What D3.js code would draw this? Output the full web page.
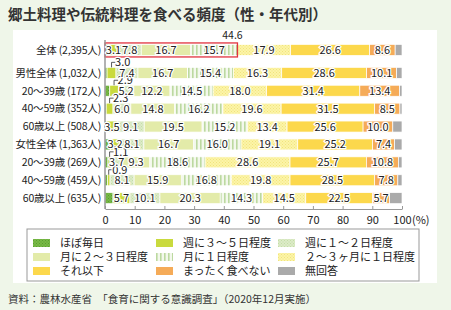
<!DOCTYPE html>
<html><head><meta charset="utf-8">
<script src="https://cdn.jsdelivr.net/npm/d3@7"></script>
<style>
html,body{margin:0;padding:0;background:#eff6e9;}
svg{display:block;font-family:"Noto Sans CJK JP","Noto Sans",sans-serif;}
</style></head><body>
<svg id="c" width="451" height="310"></svg>
<script>
const categories = ["全体 (2,395人)","男性全体 (1,032人)","20～39歳 (172人)","40～59歳 (352人)","60歳以上 (508人)","女性全体 (1,363人)","20～39歳 (269人)","40～59歳 (459人)","60歳以上 (635人)"];
const seriesNames = ["ほぼ毎日","週に３～５日程度","週に１～２日程度","月に２～３日程度","月に１日程度","２～３ヶ月に１日程度","それ以下","まったく食べない","無回答"];
const almostDaily   = [1.3, 0.7, 1.6, 0.4, 0.6, 1.8, 1.0, 0.8, 2.7];
const week3to5      = [3.1, 3.0, 2.9, 2.3, 3.5, 3.2, 1.1, 0.9, 5.7];
const week1to2      = [7.8, 7.4, 5.2, 6.0, 9.1, 8.1, 3.7, 8.1, 10.1];
const month2to3     = [16.7, 16.7, 12.2, 14.8, 19.5, 16.7, 9.3, 15.9, 20.3];
const month1        = [15.7, 15.4, 14.5, 16.2, 15.2, 16.0, 18.6, 16.8, 14.3];
const months2to3    = [17.9, 16.3, 18.0, 19.6, 13.4, 19.1, 28.6, 19.8, 14.5];
const lessOften     = [26.6, 28.6, 31.4, 31.5, 25.6, 25.2, 25.7, 28.5, 22.5];
const never         = [8.6, 10.1, 13.4, 8.5, 10.0, 7.4, 10.8, 7.8, 5.7];
const noAnswer      = [2.3, 1.8, 0.8, 0.7, 3.1, 2.5, 1.2, 1.4, 4.2];
const xTicks = [0,10,20,30,40,50,60,70,80,90,100];
const monthlyTotalLabel = "44.6";

const seriesValues = [almostDaily, week3to5, week1to2, month2to3, month1, months2to3, lessOften, never, noAnswer];
const fills = ["url(#pDaily)","#c9da3e","url(#pWeek12)","#e3eba9","url(#pStripe)","url(#pMonths)","#fcd84c","#f5ab58","#aaaaaa"];
const labeled = [false,true,true,true,true,true,true,true,false];

const svg = d3.select("#c");
const defs = svg.append("defs");
function dotPat(id, base, dot){
  const p = defs.append("pattern").attr("id",id).attr("width",3).attr("height",3).attr("patternUnits","userSpaceOnUse");
  p.append("rect").attr("width",3).attr("height",3).attr("fill",base);
  p.append("rect").attr("x",0).attr("y",0).attr("width",1).attr("height",1).attr("fill",dot);
  p.append("rect").attr("x",1.5).attr("y",1.5).attr("width",1).attr("height",1).attr("fill",dot);
}
dotPat("pDaily","#78b946","#5a9e32");
dotPat("pWeek12","#dcebc8","#c4dea6");
dotPat("pMonths","#fcf4a8","#f1e47c");
const ps = defs.append("pattern").attr("id","pStripe").attr("width",4).attr("height",4).attr("patternUnits","userSpaceOnUse");
ps.append("rect").attr("width",4).attr("height",4).attr("fill","#f3f8ec");
ps.append("rect").attr("width",1.6).attr("height",4).attr("fill","#bcd9a0");

// white panel
svg.append("rect").attr("x",13).attr("y",30).attr("width",424).attr("height",253).attr("fill","#ffffff");

// title
svg.append("text").attr("x",8).attr("y",20).attr("font-size",14.5).attr("font-weight","bold").attr("fill","#333")
  .text("郷土料理や伝統料理を食べる頻度（性・年代別）");

const x = d3.scaleLinear().domain([0,100]).range([105,402]);
const y = d3.scaleBand().domain(categories).range([41, 41+9*17.9]).padding(0);
const gapAfterFirst = 5;
const yc = c => y(c) + y.bandwidth()/2 + (categories.indexOf(c) > 0 ? gapAfterFirst : 0);
const barH = 11;

// stack
const table = categories.map((c,i) => {
  const o = {cat:c};
  seriesNames.forEach((s,k) => o[s] = seriesValues[k][i]);
  return o;
});
const stacked = d3.stack().keys(seriesNames)(table);

const gBars = svg.append("g");
stacked.forEach((layer,k) => {
  gBars.selectAll(null).data(layer).enter().append("rect")
    .attr("x", d => x(d[0]))
    .attr("y", d => yc(d.data.cat) - barH/2)
    .attr("width", d => Math.max(0, x(d[1]) - x(d[0])))
    .attr("height", barH)
    .attr("fill", fills[k])
    .attr("stroke","#ffffff").attr("stroke-width",0.7);
});

// red box around monthly-or-more in first row
const first = categories[0];
const boxEnd = stacked[4][0][1];
svg.append("rect").attr("x", x(0)).attr("y", yc(first)-barH/2-1.5)
  .attr("width", x(boxEnd)-x(0)).attr("height", barH+3)
  .attr("fill","none").attr("stroke","#e2333f").attr("stroke-width",1.3);
svg.append("text").attr("x", x(boxEnd)-5).attr("y", 39).attr("text-anchor","middle")
  .attr("font-size",10.5).attr("fill","#222").text(monthlyTotalLabel);

// axes
const axisY = 209;
const ax = svg.append("g").attr("transform",`translate(0,${axisY})`)
  .call(d3.axisBottom(x).tickValues(xTicks).tickSizeInner(-3).tickSizeOuter(0).tickPadding(7).tickFormat(d3.format("d")));
ax.select(".domain").attr("stroke","#999").attr("stroke-width",1.2);
ax.selectAll(".tick line").attr("stroke","#999");
ax.selectAll(".tick text").attr("font-size",11).attr("fill","#222").attr("font-family",'"Noto Sans CJK JP",sans-serif');
svg.append("text").attr("x", x(100)+10).attr("y", axisY+14.5).attr("font-size",11).attr("fill","#222").text("(%)");
svg.append("line").attr("x1",x(0)).attr("x2",x(0)).attr("y1",40).attr("y2",axisY)
  .attr("stroke","#999").attr("stroke-width",1.5);

// category labels
svg.append("g").selectAll("text").data(categories).enter().append("text")
  .attr("x", 101).attr("y", d => yc(d)).attr("dy","0.36em").attr("text-anchor","end")
  .attr("font-size",10.5).attr("letter-spacing",-0.2).attr("fill","#222").text(d => d);

// value labels
const gLab = svg.append("g").attr("font-size",11).attr("fill","#222");
stacked.forEach((layer,k) => {
  if(!labeled[k]) return;
  layer.forEach((d,i) => {
    const v = d[1]-d[0];
    const cx = (x(d[0])+x(d[1]))/2;
    const cy = yc(d.data.cat);
    const txt = v.toFixed(1);
    if (k === 1 && v <= 3.0) {
      const top = cy - barH/2;
      const ly = top - 5;
      gLab.append("path").attr("d", `M${cx},${top} V${ly} H${cx+4}`)
        .attr("fill","none").attr("stroke","#333").attr("stroke-width",0.8);
      gLab.append("text").attr("x", cx+3.5).attr("y", ly).attr("dy","0.36em")
        .attr("stroke","#fff").attr("stroke-width",2.5).attr("paint-order","stroke").text(txt);
    } else {
      gLab.append("text").attr("x", cx).attr("y", cy).attr("dy","0.36em").attr("text-anchor","middle")
        .attr("stroke","#fff").attr("stroke-width",2.5).attr("paint-order","stroke").text(txt);
    }
  });
});

// legend
svg.append("rect").attr("x",27).attr("y",229).attr("width",392).attr("height",52)
  .attr("fill","#fff").attr("stroke","#999").attr("stroke-width",1);
const colX = [33, 156, 278];
const rowY = [243, 257, 271];
const lg = svg.append("g").selectAll("g").data(seriesNames).enter().append("g")
  .attr("transform",(d,i) => `translate(${colX[i%3]},${rowY[Math.floor(i/3)]})`);
lg.append("rect").attr("x",0).attr("y",-4).attr("width",17).attr("height",8).attr("fill",(d,i)=>fills[i]);
lg.append("text").attr("x",27).attr("y",0).attr("dy","0.36em").attr("font-size",11).attr("fill","#222").text(d=>d);

// source
svg.append("text").attr("x",8).attr("y",303).attr("font-size",10.5).attr("fill","#333")
  .text("資料：農林水産省　「食育に関する意識調査」（2020年12月実施）");
</script>
</body></html>
